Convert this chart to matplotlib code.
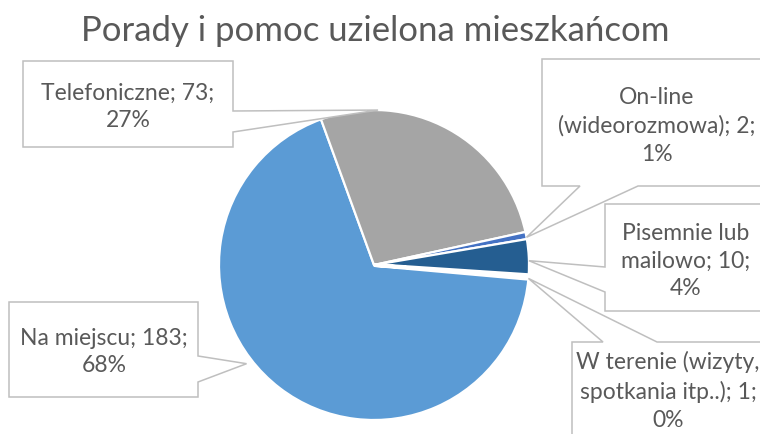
import numpy as np
import matplotlib.pyplot as plt
from matplotlib.patches import Polygon

# Data
categories = ["Na miejscu", "Telefoniczne", "On-line\n(wideorozmowa)", "Pisemnie lub\nmailowo", "W terenie (wizyty,\nspotkania itp..)"]
values = [183, 73, 2, 10, 1]
percents = ["68%", "27%", "1%", "4%", "0%"]
colors = ["#5B9BD5", "#A5A5A5", "#4472C4", "#255E91", "#9E480E"]

W, H = 760, 435
def Y(y):
    return H - y

plt.rcParams['font.family'] = ['Lato', 'DejaVu Sans']
fig = plt.figure(figsize=(7.6, 4.35), dpi=100)
ax = fig.add_axes([0, 0, 1, 1])

cx, cy, R = 374, Y(266), 155
wedges, _ = ax.pie(values, colors=colors, startangle=-5.1, counterclock=False,
                   center=(cx, cy), radius=R,
                   wedgeprops=dict(edgecolor='white', linewidth=1.6))
wedges[-1].set_linewidth(2.8)
ax.set_xlim(0, W)
ax.set_ylim(0, H)
ax.set_aspect('equal')
ax.axis('off')

# callout boxes: (x0, y0, x1, y1) in pixel coords from top-left, side of pointer, pointer base,
# where the pointer lands inside the wedge (fraction of its span), radial factor, text centre
boxes = [
    ((9, 303, 198, 398), 'right', (357, 383), 0.44, 1.04, (104, 352)),
    ((23, 62, 233, 148), 'right', (112, 133), 0.78, 1.0, (128, 107)),
    ((542, 60, 775, 187), 'bottom', (580, 638), 0.25, 1.0, (657, 126)),
    ((605, 205, 775, 312), 'left', (268, 293), 0.4, 1.0, (686, 261)),
    ((572, 343, 775, 460), 'top', (603, 657), 0.1, 1.0, (668, 391)),
]

for i, (w, (rect, side, base, frac, rf, tc)) in enumerate(zip(wedges, boxes)):
    ang = np.radians(w.theta1 + frac * (w.theta2 - w.theta1))
    tip = (cx + R * rf * np.cos(ang), cy + R * rf * np.sin(ang))
    x0, y0, x1, y1 = rect
    a, b = base
    if side == 'right':
        pts = [(x0, y0), (x1, y0), (x1, a), tip, (x1, b), (x1, y1), (x0, y1)]
    elif side == 'left':
        pts = [(x0, y0), (x1, y0), (x1, y1), (x0, y1), (x0, b), tip, (x0, a)]
    elif side == 'bottom':
        pts = [(x0, y0), (x1, y0), (x1, y1), (b, y1), tip, (a, y1), (x0, y1)]
    else:
        pts = [(x0, y0), (a, y0), tip, (b, y0), (x1, y0), (x1, y1), (x0, y1)]
    pts = [(p[0], Y(p[1])) if p is not tip else p for p in pts]
    ax.add_patch(Polygon(pts, closed=True, facecolor='white', edgecolor='#BFBFBF',
                         linewidth=1.1, zorder=3))
    label = f"{categories[i]}; {values[i]};\n{percents[i]}"
    ax.text(tc[0], Y(tc[1]), label, ha='center', va='center', fontsize=16.5,
            color='#595959', linespacing=1.4, zorder=4)

ax.text(375, Y(31), "Porady i pomoc uzielona mieszkańcom", ha='center', va='center',
        fontsize=25, color='#595959')

fig.savefig('out.png', dpi=100)
